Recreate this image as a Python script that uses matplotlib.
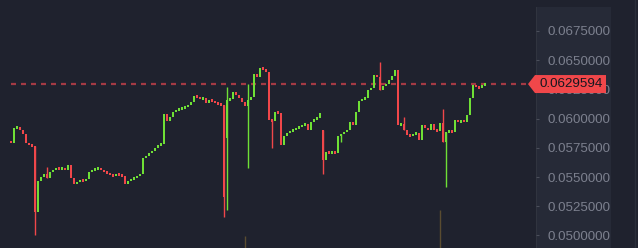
import matplotlib.pyplot as plt
from matplotlib.patches import Polygon
from matplotlib.lines import Line2D
from matplotlib.transforms import blended_transform_factory

# candle closes, left to right (open = previous close)
closes = [
    0.05791, 0.05920, 0.05928, 0.05903, 0.05868, 0.05791, 0.05774, 0.05765, 0.05201, 0.05466,
    0.05500, 0.05526, 0.05491, 0.05543, 0.05560, 0.05577, 0.05569, 0.05577, 0.05560, 0.05603,
    0.05491, 0.05440, 0.05457, 0.05475, 0.05466, 0.05483, 0.05543, 0.05560, 0.05569, 0.05577,
    0.05560, 0.05543, 0.05534, 0.05517, 0.05509, 0.05526, 0.05517, 0.05509, 0.05440, 0.05466,
    0.05483, 0.05491, 0.05509, 0.05526, 0.05663, 0.05680, 0.05705, 0.05723, 0.05748, 0.05774,
    0.05782, 0.06040, 0.05980, 0.06014, 0.06057, 0.06074, 0.06082, 0.06091, 0.06099, 0.06117,
    0.06142, 0.06194, 0.06185, 0.06168, 0.06176, 0.06134, 0.06159, 0.06151, 0.06134, 0.06125,
    0.06117, 0.05329, 0.06159, 0.06168, 0.06228, 0.06202, 0.06176, 0.06142, 0.06108, 0.06159,
    0.06185, 0.06382, 0.06356, 0.06433, 0.06425, 0.06399, 0.05988, 0.05980, 0.06057, 0.06048,
    0.05774, 0.05851, 0.05877, 0.05894, 0.05903, 0.05920, 0.05928, 0.05945, 0.05954, 0.05903,
    0.05971, 0.05997, 0.06005, 0.06048, 0.05646, 0.05714, 0.05705, 0.05714, 0.05705, 0.05851,
    0.05868, 0.05885, 0.05903, 0.05971, 0.05945, 0.06057, 0.06151, 0.06168, 0.06176, 0.06245,
    0.06262, 0.06373, 0.06356, 0.06245, 0.06279, 0.06296, 0.06331, 0.06365, 0.06416, 0.05945,
    0.05954, 0.05903, 0.05860, 0.05851, 0.05868, 0.05877, 0.05817, 0.05945, 0.05920, 0.05903,
    0.05954, 0.05903, 0.05894, 0.05962, 0.05800, 0.05885, 0.05894, 0.05885, 0.05988, 0.05971,
    0.05980, 0.05975, 0.06031, 0.06176, 0.06288, 0.06271, 0.06262, 0.06288, 0.0629594,
]
first_open = 0.05808

# candles that gapped open
gap_idx = [72, 104]
gap_open = [0.05834, 0.05903]

# long wicks
high_idx = [12, 72, 79, 123, 131, 144]
high_val = [0.05586, 0.06271, 0.06296, 0.06485, 0.06014, 0.06082]
low_idx = [8, 71, 72, 79, 87, 104, 110, 145]
low_val = [0.05004, 0.05158, 0.05218, 0.05577, 0.05748, 0.05526, 0.05800, 0.05415]

# faint volume spikes at the bottom
vol_idx = [78, 143]
vol_top = [0.04995, 0.05218]

last_price = 0.0629594
y_ticks = [0.0500, 0.0525, 0.0550, 0.0575, 0.0600, 0.0625, 0.0650, 0.0675]

BG = '#1f222e'
PANEL = '#262a37'
GREEN = '#6fe036'
RED = '#f0474a'
TXT = '#7c808e'

W, H = 638, 248
fig = plt.figure(figsize=(W / 100, H / 100), dpi=100, facecolor=BG)

# right price scale panel
panel = fig.add_axes([536 / W, 0, 75 / W, 241 / H], facecolor=PANEL, zorder=0)
panel.set_xticks([])
panel.set_yticks([])
for s in panel.spines.values():
    s.set_visible(False)
panel.spines['left'].set_visible(True)
panel.spines['left'].set_color('#30343f')

fig.lines.append(Line2D([635 / W, 635 / W], [0, 1], transform=fig.transFigure,
                        color='#2a2e3a', lw=1))

ax = fig.add_axes([0, 0, 536 / W, 1], zorder=2)
ax.set_facecolor(BG)
ax.patch.set_alpha(0)

ymin, ymax = 0.0489248, 0.0701536
xmin = -11 / 3
xmax = xmin + 536 / 3
ax.set_ylim(ymin, ymax)
ax.set_xlim(xmin, xmax)
px = (ymax - ymin) / H

# build ohlc
opens = [first_open] + closes[:-1]
for i, o in zip(gap_idx, gap_open):
    opens[i] = o
highs = [max(o, c) for o, c in zip(opens, closes)]
lows = [min(o, c) for o, c in zip(opens, closes)]
for i, v in zip(high_idx, high_val):
    highs[i] = v
for i, v in zip(low_idx, low_val):
    lows[i] = v

for i, (o, c) in enumerate(zip(opens, closes)):
    col = GREEN if c >= o else RED
    bottom = min(o, c)
    height = max(abs(c - o), px * 2.5)
    if abs(c - o) < px * 2.5:
        bottom = (o + c) / 2 - px * 1.25
    ax.bar(i, height, bottom=bottom, width=0.95, color=col, linewidth=0, zorder=3)
    if highs[i] > max(o, c) or lows[i] < min(o, c):
        ax.vlines(i, lows[i], highs[i], color=col, lw=1, zorder=3)

ax.vlines(vol_idx, ymin, vol_top, color='#5a4c30', lw=1, zorder=1)

# last price line
plt.rcParams['lines.scale_dashes'] = False
ax.hlines(last_price, 0, xmax, colors='#a33a44', lw=1.6, linestyles=(0, (3.6, 3.6)), zorder=2)

# ticks on the right
ax.yaxis.tick_right()
ax.set_yticks(y_ticks)
ax.set_yticklabels([f'{t:.7f}' for t in y_ticks], fontsize=9.6,
                   family='Liberation Sans', color=TXT)
ax.tick_params(axis='y', direction='out', length=2.5, width=0.8, color='#4a4e5a', pad=6)
ax.set_xticks([])
for s in ax.spines.values():
    s.set_visible(False)

# price tag
tr = blended_transform_factory(fig.transFigure, ax.transData)
hh = 9 * px
tag = Polygon([(528 / W, last_price), (535 / W, last_price + hh), (606 / W, last_price + hh),
               (606 / W, last_price - hh), (535 / W, last_price - hh)],
              closed=True, transform=tr, facecolor=RED, edgecolor='none',
              clip_on=False, zorder=6)
ax.add_patch(tag)
ax.text(571 / W, last_price, f'{last_price:.7f}', transform=tr, ha='center', va='center',
        fontsize=9.6, family='Liberation Sans', color='#15171f', clip_on=False, zorder=7)

fig.savefig('out.png', dpi=100, facecolor=BG)
